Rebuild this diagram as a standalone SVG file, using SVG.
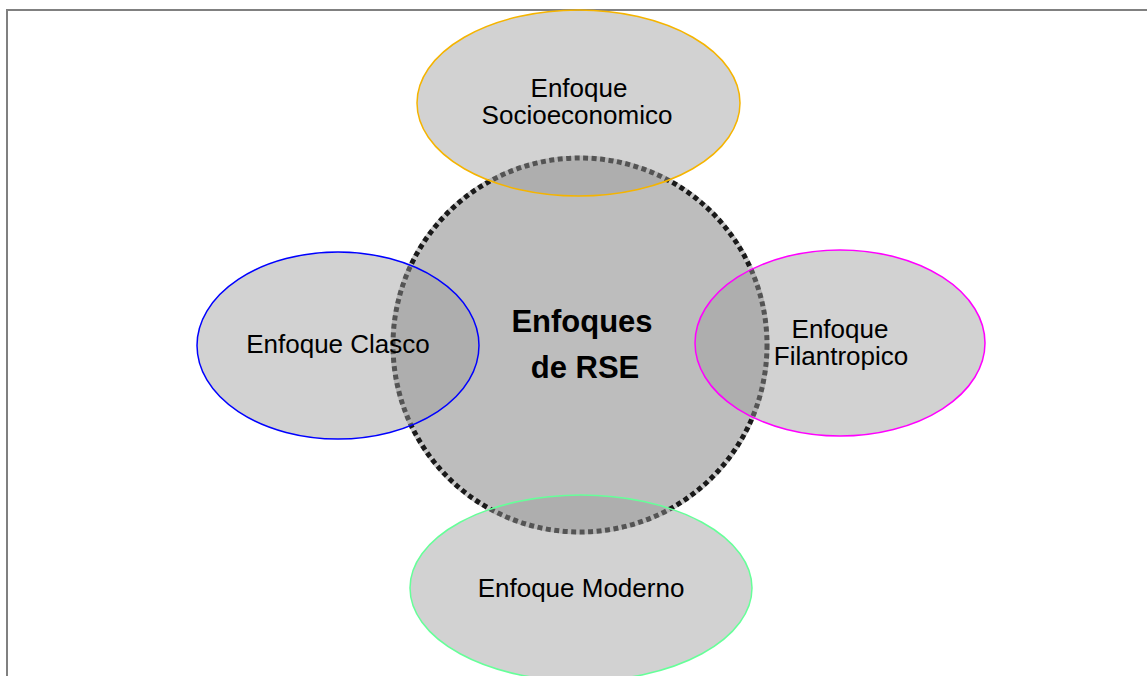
<svg xmlns="http://www.w3.org/2000/svg" width="1147" height="676" viewBox="0 0 1147 676">
<style>
.sat{fill:#9c9c9c;fill-opacity:0.45;stroke-width:1.5}
.lbl{font-family:"Liberation Sans",Arial,sans-serif;font-size:26px;fill:#000;text-anchor:middle}
.ctr{font-family:"Liberation Sans",Arial,sans-serif;font-size:31px;font-weight:bold;fill:#000;text-anchor:middle}
</style>
<rect x="0" y="0" width="1147" height="676" fill="#fff"/>
<rect x="7" y="10" width="1160" height="700" fill="none" stroke="#808080" stroke-width="2"/>
<g id="center">
<circle cx="580" cy="345" r="187" fill="#bdbdbd" stroke="#cacaca" stroke-width="5"/>
<circle cx="580" cy="345" r="187" fill="none" stroke="#1a1a1a" stroke-width="5" stroke-dasharray="5 3.5"/>
<text class="ctr" x="582" y="332">Enfoques</text>
<text class="ctr" x="585" y="378">de RSE</text>
</g>
<g id="top">
<ellipse class="sat" cx="578.5" cy="103" rx="161.5" ry="93" stroke="#f5b400"/>
<text class="lbl" x="579" y="97">Enfoque</text>
<text class="lbl" x="577" y="124">Socioeconomico</text>
</g>
<g id="left">
<ellipse class="sat" cx="338" cy="345.5" rx="141" ry="93.5" stroke="#0000ff"/>
<text class="lbl" x="338" y="353">Enfoque Clasco</text>
</g>
<g id="right">
<ellipse class="sat" cx="840" cy="343" rx="145" ry="93" stroke="#ff00ff"/>
<text class="lbl" x="840" y="338">Enfoque</text>
<text class="lbl" x="841" y="365">Filantropico</text>
</g>
<g id="bottom">
<ellipse class="sat" cx="581" cy="588" rx="171" ry="93" stroke="#66ff99"/>
<text class="lbl" x="581" y="597">Enfoque Moderno</text>
</g>
<g id="connectors"/>
</svg>
